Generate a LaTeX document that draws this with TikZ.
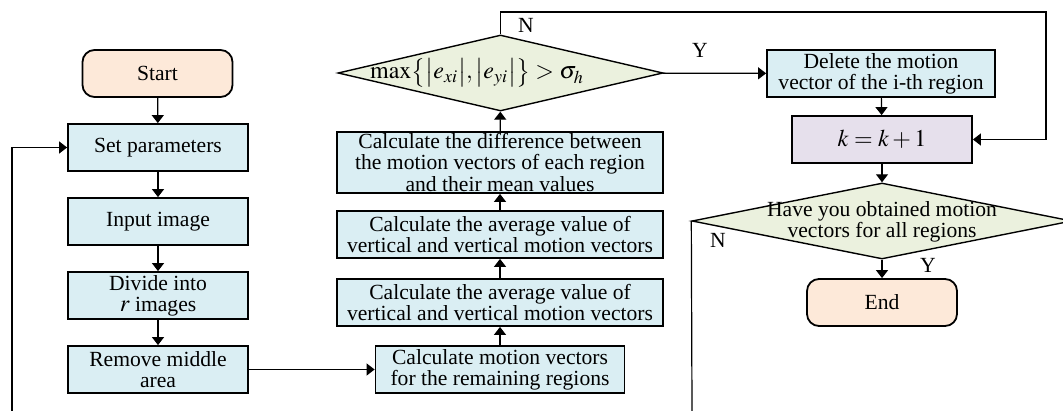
\documentclass[tikz,border=0pt]{standalone}
\usepackage{mathptmx}
\usepackage{fontspec}
\setmainfont{Liberation Serif}
\usepackage{tikz}
\usetikzlibrary{shapes.geometric, arrows.meta, positioning}
\definecolor{boxblue}{HTML}{DAEEF3}
\definecolor{boxgreen}{HTML}{EBF1DE}
\definecolor{boxpeach}{HTML}{FDE9D9}
\definecolor{boxlilac}{HTML}{E6E0EC}
\tikzset{
	processnode/.style={
			shape=rectangle,
			draw=black,
			line width=0.9pt,
			fill=boxblue,
			align=center,
			inner sep=0pt,
			font=\fontsize{10.8}{10.6}\selectfont,
			minimum width=90pt,
			minimum height=23.5pt
		},
	terminalnode/.style={
			processnode,
			fill=boxpeach,
			rounded corners=6pt,
			minimum width=75pt
		},
	decisionnode/.style={
			shape=diamond,
			draw=black,
			line width=0.7pt,
			fill=boxgreen,
			inner sep=0pt
		},
	flowline/.style={
			line width=0.6pt
		},
	flowarrow/.style={
			flowline,
			-{Triangle[length=4pt,width=6pt]}
		}
}
\tikzset{
	yesnotext/.style={font=\fontsize{10.8}{10.8}\selectfont}
}
\begin{document}
\begin{tikzpicture}[x=0.5pt, y=-0.5pt]
  \useasboundingbox (0,0) rectangle (1063,411);

  \node[terminalnode] (start) at (157.5,73.5) {Start};
  \node[processnode] (setp) at (158,147.5) {Set parameters};
  \node[processnode] (input) at (158,221.5) {Input image};
  \node[processnode] (divide) at (158,295.5) {Divide into\\{\large$r$} images};
  \node[processnode] (remove) at (158,369.5) {Remove middle\\area};

  \node[processnode, minimum width=124.5pt] (calcmv) at (500,369.5) {Calculate motion vectors\\for the remaining regions};
  \node[processnode, minimum width=163pt] (avg1) at (500,302.5) {Calculate the average value of\\vertical and vertical motion vectors};
  \node[processnode, minimum width=163pt] (avg2) at (500,234.5) {Calculate the average value of\\vertical and vertical motion vectors};
  \node[processnode, minimum width=163pt, minimum height=30.5pt] (diff) at (500,162.5) {Calculate the difference between\\the motion vectors of each region\\and their mean values};
  \node[decisionnode, minimum width=162.5pt, minimum height=38pt] (dec1) at (500.5,73) {};
  \node (dec1text) at (477,73) {\fontsize{12}{12}\selectfont$\max\bigl\{\bigl|e_{xi}\bigr|,\bigl|e_{yi}\bigr|\bigr\}>\sigma_h$};

  \node[processnode, minimum width=114pt] (delete) at (881,73.5) {Delete the motion\\vector of the i-th region};
  \node[processnode, fill=boxlilac] (kinc) at (882,139.5) {\fontsize{12}{12}\selectfont$k=k+1$};
  \node[decisionnode, minimum width=190pt, minimum height=38pt] (dec2) at (882,221) {};
  \node[align=center, font=\fontsize{10.8}{10.6}\selectfont] (dec2text) at (882,222) {Have you obtained motion\\vectors for all regions};
  \node[terminalnode] (end) at (882,302.5) {End};

  \coordinate (loopin) at (12,411);
  \coordinate (nout) at (692,411);
  \coordinate (rturn) at (1046,12);

  \draw[flowarrow] (start) -- (setp);
  \draw[flowarrow] (setp) -- (input);
  \draw[flowarrow] (input) -- (divide);
  \draw[flowarrow] (divide) -- (remove);
  \draw[flowarrow] (remove) -- (calcmv);
  \draw[flowarrow] (calcmv) -- (avg1);
  \draw[flowarrow] (avg1) -- (avg2);
  \draw[flowarrow] (avg2) -- (diff);
  \draw[flowarrow] (diff) -- (dec1);
  \draw[flowarrow] (dec1) -- (delete);
  \draw[flowarrow] (dec1.north) |- (rturn) |- (kinc.east);
  \draw[flowarrow] (delete) -- (kinc);
  \draw[flowarrow] (kinc) -- (dec2);
  \draw[flowarrow] (dec2) -- (end);
  \draw[flowline] (dec2.west) -- (nout);
  \draw[flowarrow] (loopin) |- (setp.west);

  \node[yesnotext] (n1) at (526,25) {N};
  \node[yesnotext] (y1) at (700,50) {Y};
  \node[yesnotext] (n2) at (718,240) {N};
  \node[yesnotext] (y2) at (928,265) {Y};

\end{tikzpicture}
\end{document}
